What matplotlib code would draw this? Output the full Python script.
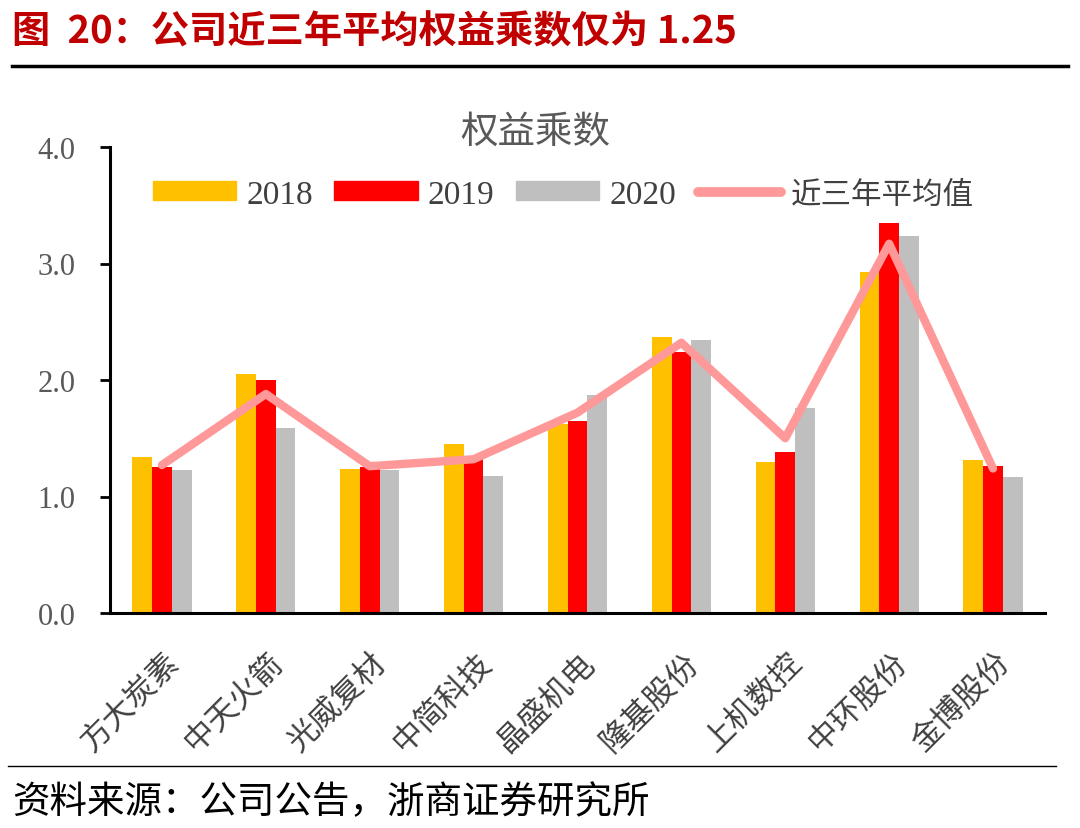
import matplotlib
matplotlib.use("Agg")
import matplotlib.pyplot as plt
import numpy as np
from matplotlib.patches import Patch
from matplotlib.lines import Line2D

categories = ["方大炭素", "中天火箭", "光威复材", "中简科技", "晶盛机电", "隆基股份", "上机数控", "中环股份", "金博股份"]
v2018 = [1.34, 2.05, 1.24, 1.45, 1.62, 2.37, 1.30, 2.93, 1.31]
v2019 = [1.25, 2.00, 1.25, 1.32, 1.65, 2.24, 1.38, 3.35, 1.26]
v2020 = [1.23, 1.59, 1.23, 1.18, 1.87, 2.34, 1.76, 3.24, 1.17]
avg3 = [1.27, 1.88, 1.26, 1.32, 1.72, 2.32, 1.50, 3.17, 1.24]
series_names = ["2018", "2019", "2020", "近三年平均值"]
yticks = [0.0, 1.0, 2.0, 3.0, 4.0]

CJK = ["Noto Sans CJK SC", "DejaVu Sans"]
SERIF = ["Liberation Serif", "DejaVu Serif"]
plt.rcParams['font.family'] = CJK

fig = plt.figure(figsize=(10.8, 8.29), dpi=100)
ax = fig.add_axes([110/1080, 1-614/829, 935/1080, 466/829])

x = np.arange(len(categories))
w = 0.19
ax.bar(x - w, v2018, w, color="#FFC000", zorder=2)
ax.bar(x, v2019, w, color="#FF0000", zorder=2)
ax.bar(x + w, v2020, w, color="#BFBFBF", zorder=2)
ax.plot(x, avg3, color="#FF9999", lw=6, solid_capstyle="round", solid_joinstyle="round", zorder=3)

ax.set_xlim(-0.5, len(categories) - 0.5)
ax.set_ylim(0, 4.0)
ax.set_yticks(yticks)
ax.set_yticklabels([f"{t:.1f}" for t in yticks], family=SERIF, fontsize=22, color="#595959")
ax.tick_params(axis='y', direction='out', length=7, width=2, color="black", pad=18)
ax.set_xticks(x)
ax.set_xticklabels([])
ax.tick_params(axis='x', length=0)
for s in ["top", "right"]:
    ax.spines[s].set_visible(False)
ax.spines["left"].set_linewidth(2.2)
ax.spines["bottom"].set_linewidth(2.2)

for i, c in enumerate(categories):
    ax.annotate(c, xy=(i, 0), xycoords="data", xytext=(1, -24), textcoords="offset points",
                rotation=45, ha="right", va="top", rotation_mode="anchor",
                fontsize=22.5, color="#404040", family=CJK, annotation_clip=False)

ax.text(0.455, 1.034, "权益乘数", transform=ax.transAxes, ha="center", va="center",
        fontsize=27, color="#595959", family=CJK)

handles = [Patch(color="#FFC000"), Patch(color="#FF0000"), Patch(color="#BFBFBF"),
           Line2D([0], [0], color="#FF9999", lw=7, solid_capstyle="round")]
leg = ax.legend(handles, series_names, loc="center", bbox_to_anchor=(0.485, 0.899), ncol=4,
                frameon=False, handlelength=2.5, handleheight=0.52, handletextpad=0.3,
                columnspacing=0.65, prop={"family": SERIF + ["Noto Sans CJK SC"], "size": 24})
for t in leg.get_texts():
    t.set_color("#404040")
leg.get_texts()[3].set_family(CJK)
leg.get_texts()[3].set_fontsize(22)

fig.text(12/1080, 1-32/829, "图  20：公司近三年平均权益乘数仅为 1.25", ha="left", va="center",
         fontsize=27.5, fontweight="bold", color="#C00000", family=CJK)
fig.add_artist(Line2D([12/1080, 1068/1080], [1-67/829, 1-67/829], color="black", lw=2.5))
fig.add_artist(Line2D([8/1080, 1056/1080], [1-767/829, 1-767/829], color="black", lw=1))
fig.text(12/1080, 1-803/829, "资料来源：公司公告，浙商证券研究所", ha="left", va="center",
         fontsize=27, color="black", family=CJK)

fig.savefig("out.png", dpi=100)
